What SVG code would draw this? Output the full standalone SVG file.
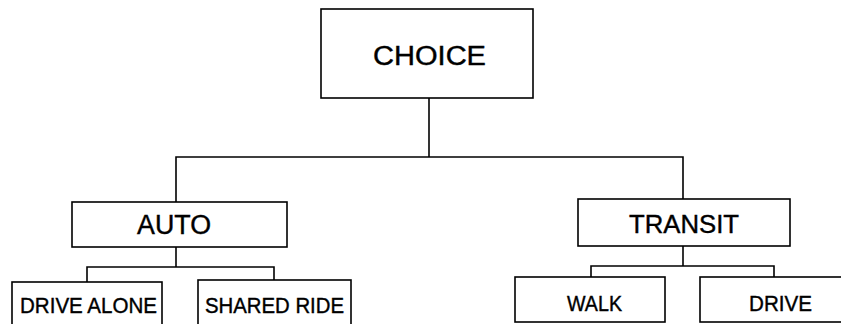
<svg xmlns="http://www.w3.org/2000/svg" width="841" height="324" viewBox="0 0 841 324">
<style>
.box{fill:#fff;stroke:#000;stroke-width:1.6}
.ln{fill:none;stroke:#000;stroke-width:1.6}
text{font-family:"Liberation Sans",Arial,sans-serif;fill:#000;stroke:#000;stroke-width:0.4;text-anchor:middle}
.big{font-size:27px}
.mid{font-size:25px}
.sm{font-size:22px}
</style>
<rect width="841" height="324" fill="#fff"/>
<g id="connectors">
<polyline class="ln" points="429,98 429,157"/>
<polyline class="ln" points="176,202 176,157 683,157 683,199"/>
<polyline class="ln" points="176,247 176,267"/>
<polyline class="ln" points="87,282 87,267 274,267 274,280"/>
<polyline class="ln" points="683,246 683,266"/>
<polyline class="ln" points="591,277 591,266 774,266 774,277"/>
</g>
<g id="choice">
<rect class="box" x="321" y="9" width="212" height="89"/>
<text class="big" x="429.5" y="65" textLength="113" lengthAdjust="spacingAndGlyphs">CHOICE</text>
</g>
<g id="auto">
<rect class="box" x="72" y="202" width="215" height="45"/>
<text class="big" x="174" y="234" textLength="74" lengthAdjust="spacingAndGlyphs">AUTO</text>
</g>
<g id="transit">
<rect class="box" x="578" y="199" width="212" height="47"/>
<text class="mid" x="684" y="233" textLength="110" lengthAdjust="spacingAndGlyphs">TRANSIT</text>
</g>
<g id="drive-alone">
<rect class="box" x="12" y="282" width="150" height="50"/>
<text class="sm" x="88.5" y="313" textLength="137" lengthAdjust="spacingAndGlyphs">DRIVE ALONE</text>
</g>
<g id="shared-ride">
<rect class="box" x="198" y="280" width="153" height="52"/>
<text class="sm" x="274.5" y="313" textLength="139" lengthAdjust="spacingAndGlyphs">SHARED RIDE</text>
</g>
<g id="walk">
<rect class="box" x="515" y="277" width="150" height="45"/>
<text class="sm" x="594.5" y="311" textLength="55" lengthAdjust="spacingAndGlyphs">WALK</text>
</g>
<g id="drive">
<rect class="box" x="700" y="277" width="148" height="45"/>
<text class="sm" x="780.5" y="311" textLength="63" lengthAdjust="spacingAndGlyphs">DRIVE</text>
</g>
</svg>
